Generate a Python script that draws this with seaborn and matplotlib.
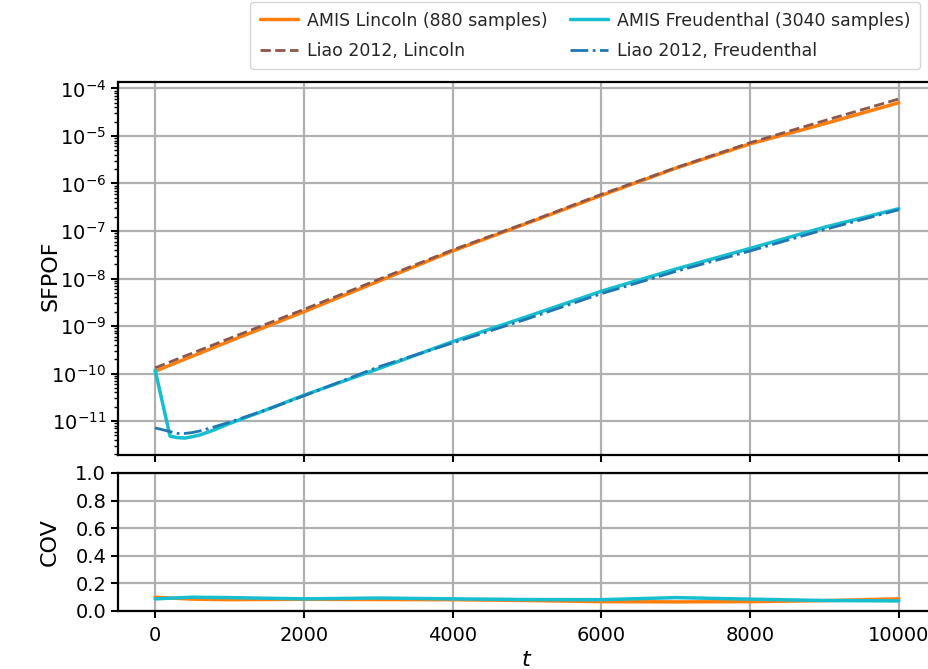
import numpy as np
import pandas as pd
import matplotlib
matplotlib.use("Agg")
import matplotlib.pyplot as plt
import seaborn as sns

# ---------------- data ----------------
t_lincoln = [0, 1000, 2000, 3000, 4000, 5000, 6000, 7000, 8000, 9000, 10000]
amis_lincoln = [1.12e-10, 4.8e-10, 2.0e-9, 8.7e-9, 3.8e-8, 1.45e-7, 5.6e-7,
                2.1e-6, 6.8e-6, 1.8e-5, 5.0e-5]
liao_lincoln = [1.32e-10, 5.5e-10, 2.24e-9, 9.5e-9, 4.0e-8, 1.5e-7, 5.9e-7,
                2.14e-6, 7.2e-6, 2.1e-5, 6.0e-5]

t_freud = [0, 200, 300, 400, 500, 600, 800, 1000, 1500, 2000, 3000, 4000,
           5000, 6000, 7000, 8000, 9000, 10000]
amis_freud = [1.17e-10, 4.8e-12, 4.5e-12, 4.4e-12, 4.7e-12, 5.1e-12, 6.6e-12,
              8.9e-12, 1.74e-11, 3.5e-11, 1.26e-10, 4.7e-10, 1.58e-9, 5.4e-9,
              1.58e-8, 4.3e-8, 1.2e-7, 2.95e-7]
liao_freud = [7.2e-12, 6.0e-12, 5.5e-12, 5.5e-12, 5.75e-12, 6.2e-12, 7.6e-12,
              9.5e-12, 1.74e-11, 3.4e-11, 1.38e-10, 4.4e-10, 1.41e-9, 4.8e-9,
              1.41e-8, 3.8e-8, 1.07e-7, 2.8e-7]

t_cov = [0, 500, 1000, 2000, 3000, 4000, 5000, 6000, 7000, 8000, 9000, 10000]
cov_lincoln = [0.100, 0.086, 0.082, 0.085, 0.083, 0.082, 0.076, 0.068, 0.066,
               0.068, 0.075, 0.088]
cov_freud = [0.088, 0.100, 0.097, 0.088, 0.094, 0.088, 0.083, 0.082, 0.097,
             0.086, 0.076, 0.073]

labels = ["AMIS Lincoln (880 samples)", "Liao 2012, Lincoln",
          "AMIS Freudenthal (3040 samples)", "Liao 2012, Freudenthal"]
x_ticks = [0, 2000, 4000, 6000, 8000, 10000]
cov_ticks = [0.0, 0.2, 0.4, 0.6, 0.8, 1.0]

# ---------------- style ----------------
sns.set_style("ticks")
plt.rcParams.update({
    "font.family": ["DejaVu Sans"],
    "axes.edgecolor": "black",
    "axes.linewidth": 1.6,
    "xtick.major.width": 1.5,
    "ytick.major.width": 1.5,
    "xtick.minor.width": 1.0,
    "ytick.minor.width": 1.0,
    "xtick.major.size": 5,
    "ytick.major.size": 5,
    "ytick.minor.size": 3,
    "xtick.major.pad": 5.5,
    "xtick.direction": "out",
    "ytick.direction": "out",
    "xtick.color": "black",
    "ytick.color": "black",
    "xtick.labelsize": 14,
    "ytick.labelsize": 14,
    "axes.labelcolor": "black",
})

C_ORANGE = "#ff7f0e"
C_BROWN = "#8c564b"
C_CYAN = "#17becf"
C_BLUE = "#1f77b4"

W, H = 929, 669
fig = plt.figure(figsize=(W / 100, H / 100), dpi=100)
left = 118 / W
width = (936 - 118) / W
ax1 = fig.add_axes([left, 1 - 455 / H, width, 373 / H])
ax2 = fig.add_axes([left, 1 - 611 / H, width, 138 / H], sharex=ax1)

grid_kw = dict(color="#b0b0b0", linewidth=1.6)

# ---------------- top panel ----------------
ax1.set_yscale("log")
sns.lineplot(x=t_lincoln, y=amis_lincoln, ax=ax1, color=C_ORANGE, lw=2.5,
             label=labels[0], zorder=3)
sns.lineplot(x=t_lincoln, y=liao_lincoln, ax=ax1, color=C_BROWN, lw=2.0,
             linestyle="--", label=labels[1], zorder=4)
sns.lineplot(x=t_freud, y=amis_freud, ax=ax1, color=C_CYAN, lw=2.5,
             label=labels[2], zorder=3)
sns.lineplot(x=t_freud, y=liao_freud, ax=ax1, color=C_BLUE, lw=2.0,
             linestyle="-.", label=labels[3], zorder=4)
ax1.set_ylabel("SFPOF", fontsize=16)
ax1.grid(True, which="major", **grid_kw)
ax1.set_axisbelow(True)
ax1.tick_params(axis="x", labelbottom=False)
ax1.set_xlabel("")

handles, labs = ax1.get_legend_handles_labels()
ax1.get_legend().remove()

# ---------------- bottom panel ----------------
sns.lineplot(x=t_cov, y=cov_lincoln, ax=ax2, color=C_ORANGE, lw=2.5, zorder=3)
sns.lineplot(x=t_cov, y=cov_freud, ax=ax2, color=C_CYAN, lw=2.5, zorder=3)
ax2.set_ylim(0, 1)
ax2.set_yticks(cov_ticks)
ax2.set_xticks(x_ticks)
ax2.set_xlim(-500, 10500)
ax2.grid(True, which="major", **grid_kw)
ax2.set_axisbelow(True)
ax2.set_ylabel("COV", fontsize=16)
ax2.set_xlabel("$t$", fontsize=16, labelpad=4)

lab_x = (60 - 118) / 818
ax1.yaxis.set_label_coords(lab_x, 0.48)
ax2.yaxis.set_label_coords(lab_x, 0.5)

for ax in (ax1, ax2):
    for s in ax.spines.values():
        s.set_visible(True)
        s.set_linewidth(1.6)

fig.legend(handles, labs, loc="upper right",
           bbox_to_anchor=(920 / W, 1 - 2 / H), ncol=2, fontsize=12.5,
           frameon=True, borderaxespad=0, columnspacing=1.3,
           labelspacing=0.7, borderpad=0.55,
           handlelength=2.2, handletextpad=0.5, edgecolor="#cccccc")

fig.savefig("out.png", dpi=100)
